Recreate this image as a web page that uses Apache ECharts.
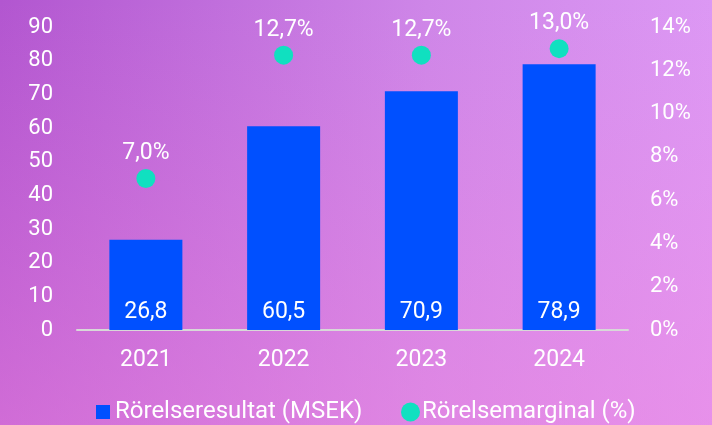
<!DOCTYPE html>
<html><head><meta charset="utf-8">
<script src="https://cdn.jsdelivr.net/npm/echarts@6/dist/echarts.min.js"></script>
<style>html,body{margin:0;padding:0;}
#c{width:712px;height:425px;
background:
 linear-gradient(to bottom, rgba(245,135,222,0) 0%, rgba(245,135,222,0.45) 100%),
 linear-gradient(to right, #b256d0 0%, #ce86e8 60%, #dc98f4 100%);}
</style>
</head><body><div id="c"></div>
<script>
const categories = ['2021','2022','2023','2024'];
const resultat = [26.8, 60.5, 70.9, 78.9];
const marginal = [7.0, 12.7, 12.7, 13.0];
const seriesNames = ['Rörelseresultat (MSEK)', 'Rörelsemarginal (%)'];
const fmt = v => String(v.toFixed(1)).replace('.', ',');
const chart = echarts.init(document.getElementById('c'), null, {renderer:'canvas'});
const font = 'Roboto';
const legendText = {color:'#fff',fontSize:24,fontFamily:font};
chart.setOption({
  animation:false,
  backgroundColor:'transparent',
  textStyle:{fontFamily:font},
  grid:{left:77,right:84,top:27,bottom:95},
  legend:[
    {top:400, left:96, padding:0, itemWidth:14, itemHeight:14,
     textStyle:Object.assign({padding:[0,0,0,0]},legendText),
     data:[{name:seriesNames[0],icon:'rect'}]},
    {top:400, left:401, padding:0, itemWidth:19, itemHeight:19,
     textStyle:Object.assign({padding:[0,0,0,-3]},legendText),
     data:[{name:seriesNames[1],icon:'circle'}]}
  ],
  xAxis:{type:'category',data:categories,
    axisLine:{lineStyle:{color:'#d8d8d8',width:2}},axisTick:{show:false},
    axisLabel:{color:'#fff',fontSize:23,margin:19,fontFamily:font}},
  yAxis:[
    {type:'value',min:0,max:90,interval:10,splitLine:{show:false},
     axisLabel:{color:'#fff',fontSize:22,margin:24,fontFamily:font}},
    {type:'value',min:0,max:14,interval:2,splitLine:{show:false},
     axisLabel:{color:'#fff',fontSize:22,margin:22,fontFamily:font,formatter:'{value}%'}}
  ],
  series:[
    {name:seriesNames[0],type:'bar',data:resultat,barWidth:73,
     itemStyle:{color:'#0050ff'},
     label:{show:true,position:'insideBottom',distance:6,color:'#fff',fontSize:23,fontFamily:font,
       formatter:p=>fmt(p.value)}},
    {name:seriesNames[1],type:'scatter',yAxisIndex:1,data:marginal,symbolSize:19,
     itemStyle:{color:'#10e0c0',opacity:1},
     label:{show:true,position:'top',distance:4,color:'#fff',fontSize:23,fontFamily:font,
       formatter:p=>fmt(p.value)+'%'}}
  ]
});
</script></body></html>
